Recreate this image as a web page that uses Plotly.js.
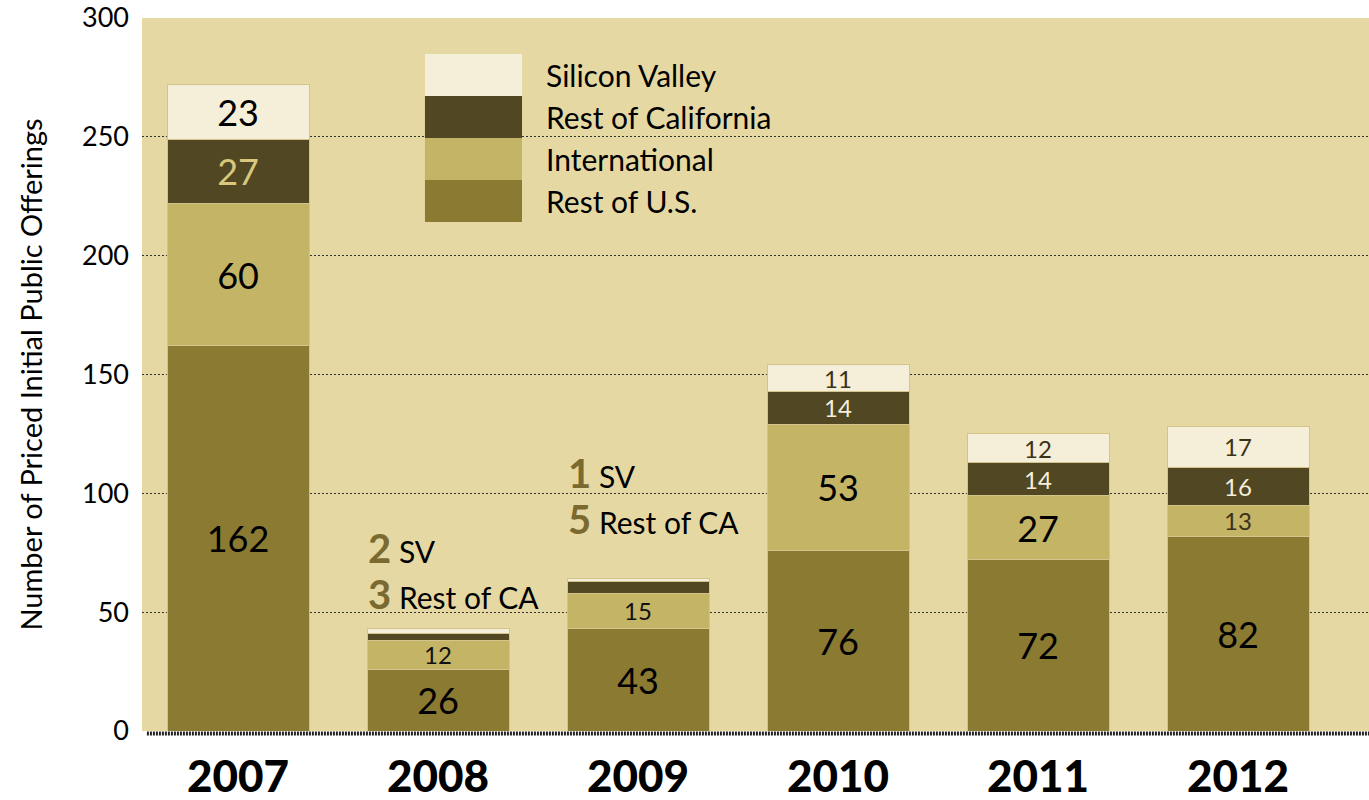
<!DOCTYPE html>
<html>
<head>
<meta charset="utf-8">
<script src="https://cdn.plot.ly/plotly-3.0.1.min.js"></script>
<style>html,body{margin:0;padding:0;background:#fff;}#chart{width:1369px;height:800px;}</style>
</head>
<body>
<div id="chart"></div>
<script>
// ---- data ----
const years = ['2007', '2008', '2009', '2010', '2011', '2012'];
const restOfUS = [162, 26, 43, 76, 72, 82];
const international = [60, 12, 15, 53, 27, 13];
const restOfCalifornia = [27, 3, 5, 14, 14, 16];
const siliconValley = [23, 2, 1, 11, 12, 17];
const seriesNames = ['Silicon Valley', 'Rest of California', 'International', 'Rest of U.S.'];
const yTicks = [0, 50, 100, 150, 200, 250, 300];
const yTitle = 'Number of Priced Initial Public Offerings';

// which in-bar labels are printed
const showUS = [1, 1, 1, 1, 1, 1];
const showIntl = [1, 1, 1, 1, 1, 1];
const showCA = [1, 0, 0, 1, 1, 1];
const showSV = [1, 0, 0, 1, 1, 1];

// ---- styles ----
const FONT = 'Lato, "Open Sans", sans-serif';
const C_US = '#8A7A32', C_INTL = '#C4B466', C_CA = '#514723', C_SV = '#F5EED8';
const C_BG = '#E5D8A3', C_NUM = '#7A6A30';
const BIG = 36, SMALL = 24;

const xIdx = years.map((_, i) => i);
const lbl = (vals, show) => vals.map((v, i) => show[i] ? String(v) : '');
const sizes = vals => vals.map(v => v >= 20 ? BIG : SMALL);

function barTrace(name, vals, show, color, textColors) {
  return {
    type: 'bar', name: name, x: xIdx, y: vals,
    text: lbl(vals, show), textposition: 'inside', insidetextanchor: 'middle',
    textangle: 0, constraintext: 'none', cliponaxis: false,
    textfont: {family: FONT, size: sizes(vals), color: textColors},
    marker: {color: color, line: {color: '#D2C48A', width: 1}},
    width: 0.71, hoverinfo: 'none', showlegend: false
  };
}

const traces = [
  barTrace(seriesNames[3], restOfUS, showUS, C_US, ['#000', '#000', '#000', '#000', '#000', '#000']),
  barTrace(seriesNames[2], international, showIntl, C_INTL, ['#000', '#111', '#111', '#000', '#000', '#3a3218']),
  barTrace(seriesNames[1], restOfCalifornia, showCA, C_CA, ['#D9C77E', C_SV, C_SV, C_SV, C_SV, C_SV]),
  barTrace(seriesNames[0], siliconValley, showSV, C_SV, ['#000', C_CA, C_CA, '#3a3218', '#3a3218', '#3a3218'])
];

// ---- custom legend (swatches stacked) ----
const legendColors = [C_SV, C_CA, C_INTL, C_US];
const shapes = [];
const annotations = [];
const lgX0 = 0.2306, lgX1 = 0.3097, lgTop = 0.9495, lgH = 0.0589;
seriesNames.forEach((n, i) => {
  shapes.push({type: 'rect', xref: 'paper', yref: 'paper', x0: lgX0, x1: lgX1,
    y0: lgTop - (i + 1) * lgH, y1: lgTop - i * lgH, fillcolor: legendColors[i],
    line: {width: 0}, layer: 'above'});
  annotations.push({xref: 'paper', yref: 'paper', x: 0.3275, y: lgTop - (i + 0.5) * lgH,
    xanchor: 'left', yanchor: 'middle', text: n, showarrow: false,
    font: {family: FONT, size: 30, color: '#000'}});
});

// zero axis thick dotted line
shapes.push({type: 'line', xref: 'paper', yref: 'paper', x0: 0.004, x1: 1, y0: -0.0035, y1: -0.0035,
  line: {color: '#222', width: 4, dash: '2px,1px'}, layer: 'above'});

// small-segment callouts for 2008 and 2009 (two lines in one annotation)
function part(num, label) {
  return '<span style="font-size:40px;color:' + C_NUM + '"><b>' + num + '</b></span>' +
         '<span style="font-size:30px"> ' + label + '</span>';
}
function callout(xi, yv, svNum, caNum) {
  annotations.push({xref: 'x', yref: 'y', x: xi - 0.36, y: yv, xanchor: 'left', yanchor: 'middle',
    align: 'left', showarrow: false,
    text: part(svNum, 'SV') + '<br>' + part(caNum, 'Rest of CA'),
    font: {family: FONT, size: 35, color: '#000'}});
}
callout(1, 67.5, siliconValley[1], restOfCalifornia[1]);
callout(2, 99, siliconValley[2], restOfCalifornia[2]);

const layout = {
  width: 1369, height: 800,
  margin: {l: 142, r: 0, t: 18, b: 69, pad: 0},
  paper_bgcolor: '#ffffff', plot_bgcolor: C_BG,
  barmode: 'stack', bargap: 0.29,
  font: {family: FONT, color: '#000'},
  xaxis: {range: [-0.48, 5.655], tickvals: xIdx, ticktext: years, showgrid: false,
    zeroline: false, showline: false, ticks: '', ticklabelstandoff: 16,
    tickfont: {family: FONT, size: 44, color: '#000', weight: 900}, fixedrange: true},
  yaxis: {range: [0, 300], tickvals: yTicks, showgrid: true, gridcolor: '#333',
    gridwidth: 1, griddash: '2px,2px', zeroline: false, showline: false, ticks: '',
    ticklabelstandoff: 12, tickfont: {family: FONT, size: 27, color: '#000'},
    title: {text: yTitle, font: {family: FONT, size: 29, color: '#000'}, standoff: 30},
    automargin: false, fixedrange: true},
  shapes: shapes, annotations: annotations, showlegend: false
};

Plotly.newPlot('chart', traces, layout, {displayModeBar: false, staticPlot: true});
</script>
</body>
</html>
